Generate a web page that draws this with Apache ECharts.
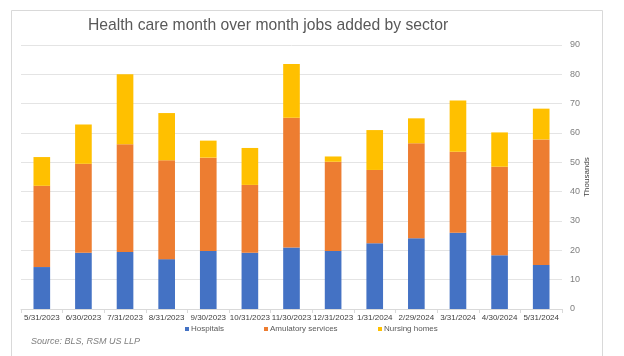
<!DOCTYPE html>
<html><head><meta charset="utf-8">
<script src="https://cdn.jsdelivr.net/npm/echarts@6/dist/echarts.min.js"></script>
<style>html,body{margin:0;padding:0;background:#fff}#c{width:624px;height:356px}</style>
</head><body><div id="c"></div>
<script>
const categories = ['5/31/2023','6/30/2023','7/31/2023','8/31/2023','9/30/2023','10/31/2023','11/30/2023','12/31/2023','1/31/2024','2/29/2024','3/31/2024','4/30/2024','5/31/2024'];
const hospitals = [14.3, 19.2, 19.4, 17.0, 19.8, 19.2, 21.0, 19.8, 22.4, 24.1, 26.0, 18.3, 15.0];
const ambulatory = [27.7, 30.3, 36.8, 33.7, 31.8, 23.1, 44.2, 30.4, 25.0, 32.4, 27.6, 30.2, 42.8];
const nursing = [9.8, 13.4, 23.8, 16.1, 5.8, 12.6, 18.3, 1.8, 13.6, 8.5, 17.5, 11.7, 10.5];
const seriesNames = ['Hospitals', 'Amulatory services', 'Nursing homes'];
const yTicks = {min: 0, max: 90, interval: 10};

const sans = "'Liberation Sans', Arial, sans-serif";
const chart = echarts.init(document.getElementById('c'), null, {renderer: 'canvas'});
chart.setOption({
  animation: false,
  backgroundColor: '#fff',
  color: ['#4472C4', '#ED7D31', '#FFC000'],
  graphic: [{
    type: 'rect', shape: {x: 11.5, y: 10.5, width: 591, height: 360},
    style: {fill: 'none', stroke: '#d9d9d9', lineWidth: 1}, silent: true, z: -1
  }, {
    type: 'text', left: 31, top: 337,
    style: {text: 'Source: BLS, RSM US LLP', fill: '#7f7f7f', font: "italic 9px 'Liberation Sans', Arial, sans-serif"}
  }],
  title: {
    text: 'Health care month over month jobs added by sector',
    left: 83, top: 13,
    textStyle: {fontFamily: sans, fontSize: 15.7, fontWeight: 'normal', color: '#595959'}
  },
  legend: seriesNames.map((n, i) => ({
    data: [n], left: [185, 264, 378][i], top: 325, padding: 0,
    itemWidth: 4, itemHeight: 4, icon: 'rect', itemGap: 0,
    textStyle: {fontFamily: sans, fontSize: 8, color: '#595959', padding: [0, 0, 0, -3]}
  })),
  grid: {left: 21, right: 62, top: 45, bottom: 47, containLabel: false},
  xAxis: {
    type: 'category', data: categories,
    axisLine: {lineStyle: {color: '#d9d9d9'}},
    axisTick: {show: true, length: 4, lineStyle: {color: '#d9d9d9'}},
    axisLabel: {interval: 0, margin: 5, fontFamily: sans, fontSize: 8, color: '#404040'}
  },
  yAxis: {
    type: 'value', position: 'right', min: yTicks.min, max: yTicks.max, interval: yTicks.interval,
    name: 'Thousands', nameLocation: 'middle', nameRotate: 90, nameGap: 21, nameMoveOverlap: false,
    nameTextStyle: {fontFamily: sans, fontSize: 8, color: '#404040'},
    axisLine: {show: false}, axisTick: {show: false},
    axisLabel: {margin: 8, fontFamily: sans, fontSize: 9, color: '#7f7f7f'},
    splitLine: {lineStyle: {color: '#e4e4e4'}}
  },
  series: [hospitals, ambulatory, nursing].map((d, i) => ({
    name: seriesNames[i], type: 'bar', stack: 'total', data: d, barWidth: '40%'
  }))
});
</script></body></html>
